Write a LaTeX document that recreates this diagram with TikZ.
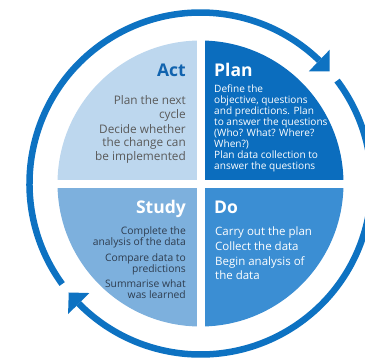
\documentclass[tikz,border=0pt]{standalone}
\usepackage{fontspec}
\setmainfont{Open Sans}
\usetikzlibrary{calc}
\definecolor{ringblue}{HTML}{0D72C2}
\definecolor{actfill}{HTML}{BDD7EE}
\definecolor{planfill}{HTML}{0B6DBE}
\definecolor{studyfill}{HTML}{7DB0DD}
\definecolor{dofill}{HTML}{3B8ED3}
\definecolor{acthead}{HTML}{1163AE}
\definecolor{actbody}{HTML}{5A5A5A}
\definecolor{studybody}{HTML}{2E3C4E}
\newcommand\qlines[2]{\begin{tabular}[t]{@{}#1@{}}#2\end{tabular}}
\begin{document}
\begin{tikzpicture}[x=1pt,y=-1pt,
  head/.style={font=\fontsize{17.5}{20}\selectfont\bfseries, inner sep=0pt},
  bodytext/.style={inner sep=0pt},
  ring/.style={draw=ringblue, line width=6.5pt},
  tipfill/.style={fill=ringblue}]
\useasboundingbox (0,0) rectangle (365,357);
\coordinate (C) at (200.5,183.5);
% quadrants
\begin{scope}
\clip (C) circle (143);
\fill[actfill] (0,0) rectangle (196.5,179.5);
\fill[planfill] (204.5,0) rectangle (365,179.5);
\fill[studyfill] (0,187.5) rectangle (196.5,357);
\fill[dofill] (204.5,187.5) rectangle (365,357);
\end{scope}
% ring segments
\draw[ring] ($(C)+(144:171)$) arc[start angle=144, end angle=314, radius=171];
\fill[tipfill] ($(C)+(314:186)$) -- ($(C)+(319:171)$) -- ($(C)+(314:156)$) -- cycle;
\draw[ring] ($(C)+(323:171)$) arc[start angle=323, end angle=495.4, radius=171];
\fill[tipfill] ($(C)+(135.4:186)$) -- ($(C)+(140.4:171)$) -- ($(C)+(135.4:156)$) -- cycle;
% Act
\node[head, text=acthead, anchor=base east] (acth) at (186,76) {Act};
\node[bodytext, text=actbody, anchor=base east, font=\fontsize{11.8}{13.5}\selectfont] (actb) at (186,104.5)
  {\qlines{r}{Plan the next\\cycle\\[1.5pt]Decide whether\\the change can\\be implemented}};
% Plan
\node[head, text=white, anchor=base west] (planh) at (214,76) {Plan};
\node[bodytext, text=white, anchor=base west, font=\fontsize{10.1}{11}\selectfont] (planb) at (214,92)
  {\qlines{l}{Define the\\objective, questions\\and predictions. Plan\\to answer the questions\\(Who? What? Where?\\When?)\\Plan data collection to\\answer the questions}};
% Study
\node[head, text=white, anchor=base east] (studyh) at (186,213) {Study};
\node[bodytext, text=studybody, anchor=base east, font=\fontsize{10.3}{10.8}\selectfont] (studyb) at (186,234)
  {\qlines{r}{Complete the\\analysis of the data\\[5pt]Compare data to\\predictions\\[4pt]Summarise what\\was learned}};
% Do
\node[head, text=white, anchor=base west] (doh) at (214,213) {Do};
\node[bodytext, text=white, anchor=base west, font=\fontsize{11.5}{14}\selectfont] (dob) at (215,235)
  {\qlines{l}{Carry out the plan\\[1pt]Collect the data\\[1pt]Begin analysis of\\the data}};
\end{tikzpicture}
\end{document}
